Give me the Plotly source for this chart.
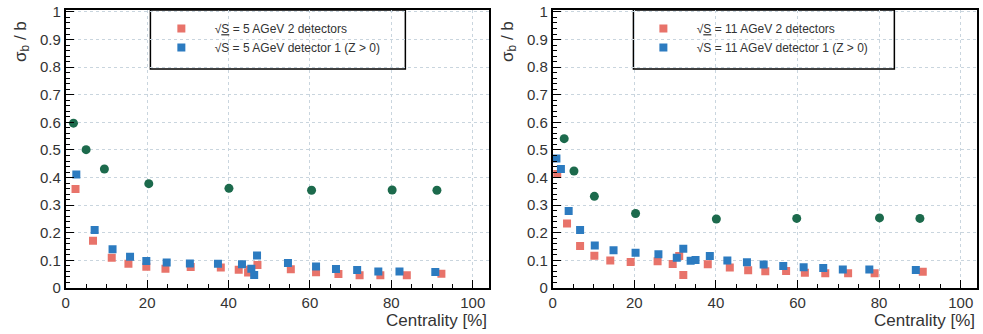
import plotly.graph_objects as go
from plotly.subplots import make_subplots

# ---------------- data ----------------
# Left panel: sqrt(S) = 5 AGeV
l_green_x = [1.9, 5.0, 9.5, 20.4, 40.1, 60.4, 80.2, 91.2]
l_green_y = [0.597, 0.501, 0.431, 0.378, 0.361, 0.354, 0.355, 0.354]

l_red_x = [2.4, 6.7, 11.3, 15.4, 19.8, 24.5, 30.7, 38.1, 42.5, 44.8, 45.2, 47.1,
           55.3, 61.5, 67.0, 72.2, 77.3, 83.8, 92.3]
l_red_y = [0.359, 0.171, 0.110, 0.088, 0.077, 0.070, 0.076, 0.074, 0.066, 0.056, 0.066, 0.083,
           0.068, 0.057, 0.051, 0.046, 0.046, 0.046, 0.052]

l_blue_x = [2.6, 7.1, 11.5, 15.8, 19.8, 24.8, 30.5, 37.4, 43.3, 45.6, 46.3, 47.0,
            54.6, 61.5, 66.4, 71.6, 76.8, 82.0, 90.8]
l_blue_y = [0.411, 0.210, 0.140, 0.113, 0.098, 0.092, 0.089, 0.088, 0.086, 0.070, 0.047, 0.118,
            0.091, 0.078, 0.069, 0.065, 0.060, 0.060, 0.058]

# Right panel: sqrt(S) = 11 AGeV
r_green_x = [2.8, 5.2, 10.2, 20.3, 40.1, 59.8, 80.1, 90.0]
r_green_y = [0.541, 0.424, 0.332, 0.270, 0.250, 0.252, 0.254, 0.252]

r_red_x = [1.1, 3.5, 6.7, 10.2, 14.1, 19.1, 25.7, 29.4, 31.0, 32.0, 38.0, 43.4, 47.9,
           52.1, 57.2, 61.8, 66.8, 72.4, 78.9, 90.7]
r_red_y = [0.413, 0.234, 0.152, 0.117, 0.100, 0.094, 0.097, 0.087, 0.116, 0.047, 0.086, 0.074, 0.064,
           0.061, 0.062, 0.055, 0.053, 0.053, 0.053, 0.059]

r_blue_x = [0.9, 2.0, 3.9, 6.7, 10.3, 14.9, 20.3, 25.9, 30.4, 32.0, 33.8, 35.0, 38.5,
            42.8, 47.6, 51.7, 56.5, 61.5, 66.3, 71.1, 77.6, 89.0]
r_blue_y = [0.469, 0.431, 0.279, 0.210, 0.154, 0.137, 0.128, 0.122, 0.110, 0.142, 0.099, 0.101, 0.116,
            0.100, 0.093, 0.085, 0.080, 0.075, 0.072, 0.067, 0.067, 0.065]

PAD = "\u00a0" * 4
legend_left = [PAD + "\u221a<u>S</u> = 5 AGeV 2 detectors", PAD + "\u221aS = 5 AGeV detector 1 (Z > 0)"]
legend_right = [PAD + "\u221a<u>S</u> = 11 AGeV 2 detectors", PAD + "\u221aS = 11 AGeV detector 1 (Z > 0)"]

RED = "#E8736A"
BLUE = "#2C7BC0"
GREEN = "#1C6A4C"
W, H = 983, 334
FONT = "Liberation Sans, Arial, sans-serif"

fig = make_subplots(rows=1, cols=2)

def add_panel(col, gx, gy, rx, ry, bx, by, names, legend):
    fig.add_trace(go.Scatter(x=rx, y=ry, mode="markers", name=names[0], legend=legend,
                             marker=dict(symbol="square", size=8, color=RED)), row=1, col=col)
    fig.add_trace(go.Scatter(x=bx, y=by, mode="markers", name=names[1], legend=legend,
                             marker=dict(symbol="square", size=8, color=BLUE)), row=1, col=col)
    fig.add_trace(go.Scatter(x=gx, y=gy, mode="markers", showlegend=False,
                             marker=dict(symbol="circle", size=9, color=GREEN)), row=1, col=col)

add_panel(1, l_green_x, l_green_y, l_red_x, l_red_y, l_blue_x, l_blue_y, legend_left, "legend")
add_panel(2, r_green_x, r_green_y, r_red_x, r_red_y, r_blue_x, r_blue_y, legend_right, "legend2")

top_px, bot_px = 10, 288
def px_x(p):
    return p / W
def px_y(p):
    return (bot_px - p) / (bot_px - top_px)

axis_common = dict(
    showline=True, linecolor="black", linewidth=2, mirror=True,
    ticks="inside", ticklen=8, tickwidth=1, tickcolor="black",
    showgrid=True, gridcolor="#C9D5DE", griddash="dot", gridwidth=1,
    zeroline=False,
    tickfont=dict(family=FONT, size=15, color="#333333"),
)

fig.update_xaxes(**axis_common, range=[0, 104], dtick=20, tick0=0,
                 minor=dict(dtick=5, ticklen=4, ticks="inside", tickcolor="black", showgrid=False))
fig.update_yaxes(**axis_common, range=[0, 1.007], dtick=0.1, tick0=0,
                 minor=dict(dtick=0.02, ticklen=4, ticks="inside", tickcolor="black", showgrid=False))

fig.update_layout(
    xaxis=dict(domain=[px_x(62), px_x(487)]),
    xaxis2=dict(domain=[px_x(551), px_x(977)]),
)

shapes = []
annotations = []
for (x0, x1, lab_x, right_edge) in [(147, 403, 18, 487), (632, 894, 507, 977)]:
    shapes.append(dict(type="rect", xref="paper", yref="paper",
                       x0=px_x(x0), x1=px_x(x1), y0=px_y(69), y1=px_y(10),
                       line=dict(color="black", width=1.5), fillcolor="white", layer="below"))
    annotations.append(dict(text="\u03c3<sub>b</sub> / b", xref="paper", yref="paper",
                            x=px_x(lab_x), y=px_y(41), xanchor="center", yanchor="middle",
                            textangle=-90, showarrow=False,
                            font=dict(family=FONT, size=17, color="#333333")))
    annotations.append(dict(text="Centrality [%]", xref="paper", yref="paper",
                            x=px_x(right_edge), y=px_y(320), xanchor="right", yanchor="middle",
                            showarrow=False, font=dict(family=FONT, size=17, color="#333333")))

legend_style = dict(bgcolor="rgba(0,0,0,0)", borderwidth=0, yanchor="top", xanchor="left",
                    font=dict(family=FONT, size=12, color="#333333"), tracegroupgap=0,
                    itemclick=False)

fig.update_layout(
    width=W, height=H,
    margin=dict(l=0, r=0, t=top_px, b=H - bot_px),
    paper_bgcolor="white", plot_bgcolor="rgba(0,0,0,0)",
    shapes=shapes, annotations=annotations,
    legend=dict(**legend_style, x=px_x(158), y=px_y(14)),
    legend2=dict(**legend_style, x=px_x(642), y=px_y(14)),
    showlegend=True,
)

fig.write_html("out.html")
